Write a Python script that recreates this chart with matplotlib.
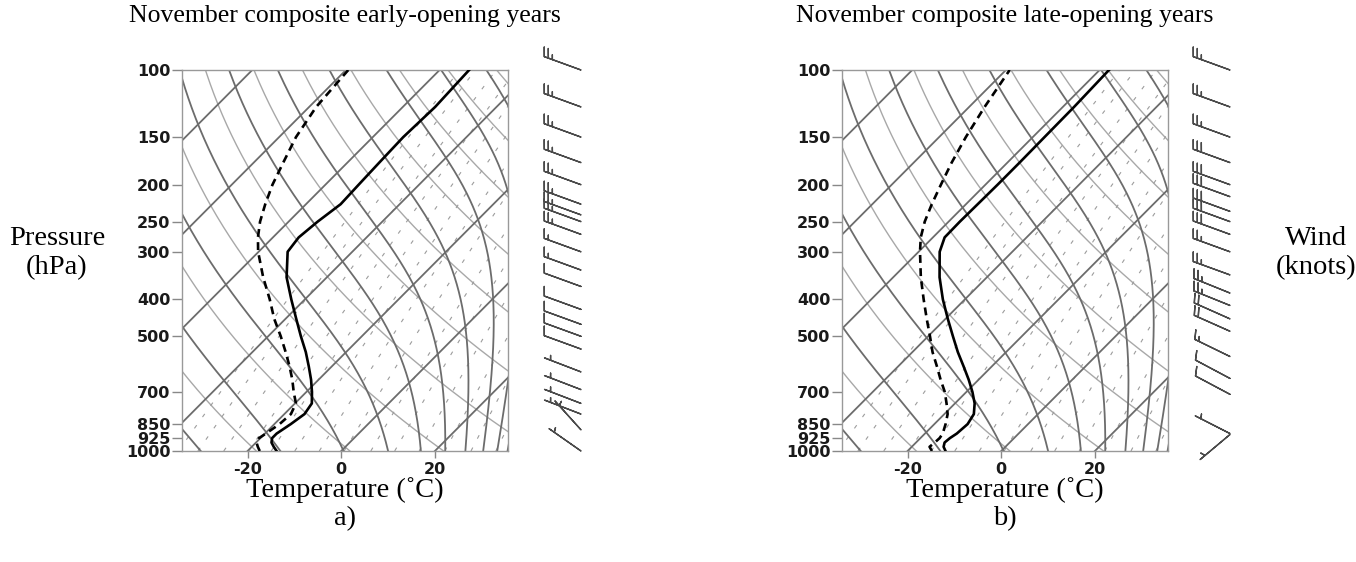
import numpy as np
import matplotlib
matplotlib.use("Agg")
import matplotlib.pyplot as plt
from matplotlib.ticker import FixedLocator, NullLocator

# ---------------- data ----------------
levels = [1000, 975, 950, 925, 900, 850, 800, 750, 700, 650, 600, 550, 500,
          450, 400, 350, 300, 275, 250, 225, 200, 175, 150, 125, 100]
temp_a = [-13.8, -15.3, -16.7, -17.5, -17.5, -16.5, -15.7, -16.4, -18.8, -21.6, -24.9, -28.6, -33.0,
          -37.7, -42.9, -48.6, -53.8, -54.5, -53.8, -52.6, -52.9, -53.2, -53.5, -53.1, -53.7]
dewp_a = [-17.4, -18.7, -19.9, -20.3, -19.8, -18.9, -18.6, -19.8, -22.7, -25.6, -29.0, -32.9, -37.3,
          -42.4, -47.5, -53.6, -60.1, -63.2, -66.1, -68.7, -71.3, -73.7, -76.4, -78.5, -79.5]
temp_b = [-11.9, -13.2, -13.9, -13.7, -13.2, -12.9, -13.7, -15.8, -18.7, -22.1, -26.0, -30.3, -34.7,
          -39.5, -44.7, -50.1, -55.5, -57.5, -57.6, -57.5, -57.4, -57.4, -57.5, -57.6, -58.0]
dewp_b = [-14.8, -16.2, -16.0, -15.9, -16.2, -17.6, -19.3, -21.8, -24.6, -28.1, -31.7, -35.7, -39.6,
          -44.0, -48.8, -54.1, -59.7, -62.6, -65.1, -67.3, -69.5, -71.9, -74.3, -76.7, -79.2]

wlev_a = [100, 125, 150, 175, 200, 225, 240, 250, 270, 300, 335, 370, 425, 465, 500,
          540, 620, 690, 750, 800, 880, 1000]
wspd_a = [25, 25, 25, 25, 25, 25, 25, 25, 25, 15, 15, 10, 10, 10, 10,
          10, 5, 5, 5, 5, 5, 5]
wdir_a = [290, 290, 290, 290, 290, 290, 290, 290, 290, 290, 290, 290, 290, 290, 290,
          290, 291, 291, 291, 291, 318, 305]

wlev_b = [100, 125, 150, 175, 200, 215, 235, 250, 270, 300, 345, 385, 415, 450, 485,
          565, 645, 710, 900, 905]
wspd_b = [25, 25, 25, 30, 30, 30, 30, 30, 30, 25, 25, 25, 25, 20, 20,
          15, 10, 10, 5, 5]
wdir_b = [290, 290, 290, 290, 290, 290, 290, 290, 290, 290, 290, 292, 292, 294, 294,
          296, 298, 298, 297, 230]

title_a = "November composite early-opening years"
title_b = "November composite late-opening years"
p_ticks = [100, 150, 200, 250, 300, 400, 500, 700, 850, 925, 1000]
t_ticks = [-20, 0, 20]

# background line families
isotherms = list(range(-140, 41, 20))            # deg C
dry_theta = list(range(235, 476, 20))            # K
moist_t0 = [-30, -13, 0.5, 10, 17, 22.2, 26.5, 30.3, 33.3, 35.5, 37.5, 39.3, 40.8]  # deg C at 1000 hPa
mixr = [0.2, 0.3, 0.5, 0.8, 1.2, 1.8, 2.7, 4, 6, 8.5, 12, 17, 24, 33]              # g/kg

SKEW = 81.0
XMIN, XMAX = -34.0, 35.6

DARK = "#6c6c6c"
LIGHT = "#a8a8a8"
MIXC = "#9c9c9c"


def skx(T, p):
    return np.asarray(T, float) + SKEW * np.log10(1000.0 / np.asarray(p, float))


def moist_profile(t0c, pp):
    Rd, cp, Lv, eps = 287.04, 1005.7, 2.501e6, 0.622

    def rs(T, p):
        tc = T - 273.15
        es = 6.112 * np.exp(17.67 * tc / (tc + 243.5))
        return eps * es / (p - es)

    def f(T, lnp):
        p = np.exp(lnp)
        r = rs(T, p)
        return (Rd * T + Lv * r) / (cp + Lv * Lv * r * eps / (Rd * T * T))

    lnp = np.log(pp)
    out = np.empty_like(pp)
    T = t0c + 273.15
    out[0] = T
    for i in range(1, len(pp)):
        h = lnp[i] - lnp[i - 1]
        k1 = f(T, lnp[i - 1])
        k2 = f(T + 0.5 * h * k1, lnp[i - 1] + 0.5 * h)
        k3 = f(T + 0.5 * h * k2, lnp[i - 1] + 0.5 * h)
        k4 = f(T + h * k3, lnp[i])
        T = T + h / 6 * (k1 + 2 * k2 + 2 * k3 + k4)
        out[i] = T
    return out - 273.15


def draw_panel(ax, axw, temp, dewp, wlev, wspd, wdir):
    pp = np.logspace(3, 2, 300)
    for th in dry_theta:
        ax.plot(skx(th * (pp / 1000.0) ** 0.2857 - 273.15, pp), pp, color=LIGHT, lw=1.0, zorder=1)
    for r in mixr:
        e = r * pp / (622.0 + r)
        ln = np.log(e / 6.112)
        td = 243.5 * ln / (17.67 - ln)
        ax.plot(skx(td, pp), pp, color=MIXC, lw=0.8, ls=(0, (3.5, 9)), zorder=1)
    for t0 in moist_t0:
        ax.plot(skx(moist_profile(t0, pp), pp), pp, color=DARK, lw=1.3, zorder=2)
    for T in isotherms:
        ax.plot(skx(np.full_like(pp, T), pp), pp, color=DARK, lw=1.3, zorder=2)

    ax.plot(skx(temp, levels), levels, color="black", lw=1.9, zorder=5)
    ax.plot(skx(dewp, levels), levels, color="black", lw=1.9, ls=(0, (3, 2)), zorder=5)

    ax.set_yscale("log")
    ax.set_ylim(1000, 100)
    ax.set_xlim(XMIN, XMAX)
    ax.yaxis.set_major_locator(FixedLocator(p_ticks))
    ax.yaxis.set_minor_locator(NullLocator())
    ax.set_yticklabels([str(p) for p in p_ticks])
    ax.xaxis.set_major_locator(FixedLocator(t_ticks))
    ax.set_xticklabels([str(t) for t in t_ticks])
    for sp in ax.spines.values():
        sp.set_color("#999999")
        sp.set_linewidth(1.0)
    ax.tick_params(axis="both", direction="out", color="#888888", width=1.0,
                   labelsize=11.5, labelcolor="#1a1a1a")
    ax.tick_params(axis="y", length=7, pad=1.5)
    ax.tick_params(axis="x", length=5, pad=3)
    for lab in ax.get_xticklabels() + ax.get_yticklabels():
        lab.set_fontweight("bold")
        lab.set_family("DejaVu Sans")

    d = np.deg2rad(np.asarray(wdir, float))
    s = np.asarray(wspd, float)
    u = -s * np.sin(d)
    v = -s * np.cos(d)
    axw.barbs(np.full(len(wlev), 0.5), wlev, u, v, length=7.5, pivot="tip",
              color="#4a4a4a", linewidth=1.0, clip_on=False,
              sizes=dict(spacing=0.11, height=0.23, width=0.17))
    axw.set_yscale("log")
    axw.set_ylim(1000, 100)
    axw.set_xlim(0, 1)
    axw.axis("off")


W, H = 1356, 562
fig = plt.figure(figsize=(W / 100, H / 100), dpi=100)


def px_axes(x0, x1, y0, y1):
    return fig.add_axes([x0 / W, 1 - y1 / H, (x1 - x0) / W, (y1 - y0) / H])


ax_a = px_axes(182, 508, 70, 451)
axw_a = px_axes(541, 621, 70, 451)
ax_b = px_axes(842, 1168, 70, 451)
axw_b = px_axes(1190, 1270, 70, 451)

draw_panel(ax_a, axw_a, temp_a, dewp_a, wlev_a, wspd_a, wdir_a)
draw_panel(ax_b, axw_b, temp_b, dewp_b, wlev_b, wspd_b, wdir_b)

serif = "Liberation Serif"


def ftext(x, y, s, fs):
    fig.text(x / W, 1 - y / H, s, ha="center", va="center", family=serif,
             fontsize=fs, color="black")


ftext(345, 16, title_a, 18.5)
ftext(1005, 16, title_b, 18.5)
ftext(57, 238, "Pressure", 20.5)
ftext(57, 268, "(hPa)", 20.5)
ftext(1316, 238, "Wind", 20.5)
ftext(1316, 268, "(knots)", 20.5)
ftext(345, 490, "Temperature (˚C)", 20.5)
ftext(345, 519, "a)", 20.5)
ftext(1005, 490, "Temperature (˚C)", 20.5)
ftext(1005, 519, "b)", 20.5)

fig.savefig("out.png", dpi=100)
